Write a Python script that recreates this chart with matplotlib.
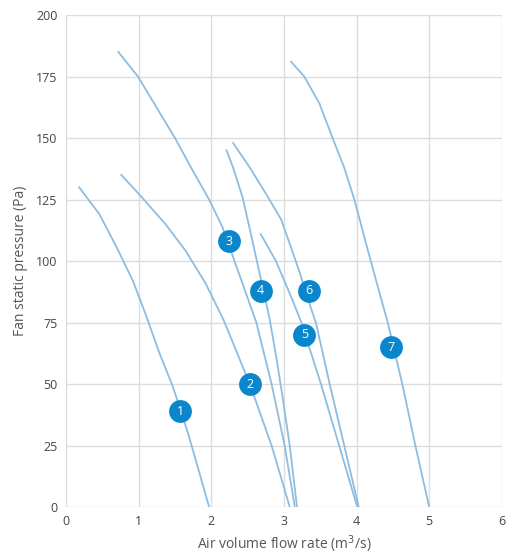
# Fan curves: static pressure vs air volume flow rate
import matplotlib
matplotlib.use("Agg")
import matplotlib.pyplot as plt

plt.rcParams['font.family'] = ['Open Sans', 'DejaVu Sans']

# Curve data (flow m3/s, pressure Pa)
c1_x = [0.18, 0.46, 0.69, 0.92, 1.10, 1.28, 1.47, 1.69, 1.97]
c1_y = [130, 119, 106, 92, 78, 63, 49, 29, 0]
c2_x = [0.76, 0.98, 1.37, 1.65, 1.92, 2.17, 2.53, 2.83, 3.08]
c2_y = [135, 128, 115, 104, 91, 76, 50, 25, 0]
c3_x = [0.72, 0.99, 1.50, 1.74, 1.97, 2.15, 2.32, 2.62, 2.83, 3.01, 3.15]
c3_y = [185, 175, 150, 137, 125, 114, 100, 75, 50, 25, 0]
c4_x = [2.21, 2.30, 2.43, 2.53, 2.62, 2.71, 2.80, 2.90, 2.98, 3.08, 3.18]
c4_y = [145, 138, 126, 113, 101, 89, 77, 60, 45, 25, 0]
c5_x = [2.68, 2.89, 3.12, 3.24, 3.51, 3.76, 4.01]
c5_y = [111, 100, 84, 75, 50, 25, 0]
c6_x = [2.30, 2.53, 2.76, 2.96, 3.08, 3.21, 3.37, 3.44, 3.63, 3.83, 4.03]
c6_y = [148, 138, 127, 117, 107, 96, 81, 75, 50, 25, 0]
c7_x = [3.10, 3.28, 3.49, 3.67, 3.83, 3.97, 4.15, 4.27, 4.43, 4.63, 4.81, 5.00]
c7_y = [181, 175, 164, 150, 138, 125, 105, 92, 75, 50, 25, 0]

# Numbered badges
lab_txt = ['1', '2', '3', '4', '5', '6', '7']
lab_x = [1.57, 2.53, 2.24, 2.68, 3.28, 3.34, 4.48]
lab_y = [39, 50, 108, 88, 70, 88, 65]

fig = plt.figure(figsize=(5.2, 5.58), dpi=100)
ax = fig.add_axes([0.127, 0.0914, 0.838, 0.8816])

line_col = '#8dbde0'
for xs, ys in [(c1_x, c1_y), (c2_x, c2_y), (c3_x, c3_y), (c4_x, c4_y),
               (c5_x, c5_y), (c6_x, c6_y), (c7_x, c7_y)]:
    ax.plot(xs, ys, color=line_col, lw=1.3, zorder=3)

ax.scatter(lab_x, lab_y, s=270, color='#0a87cc', zorder=5, linewidths=0)
for t, x, y in zip(lab_txt, lab_x, lab_y):
    ax.text(x, y, t, color='white', fontsize=9, ha='center', va='center',
            zorder=6)

ax.set_xlim(0, 6)
ax.set_ylim(0, 200)
ax.set_xticks(range(0, 7))
ax.set_yticks(range(0, 201, 25))
ax.grid(True, color='#dcdcdc', lw=1)
ax.set_axisbelow(True)
for s in ax.spines.values():
    s.set_visible(False)
ax.tick_params(length=0, colors='#444444', labelsize=9, pad=6)

ax.set_xlabel('Air volume flow rate (m$^3$/s)', color='#555555', fontsize=10,
              labelpad=4)
ax.set_ylabel('Fan static pressure (Pa)', color='#555555', fontsize=10,
              labelpad=6)

plt.savefig('out.png', dpi=100)
